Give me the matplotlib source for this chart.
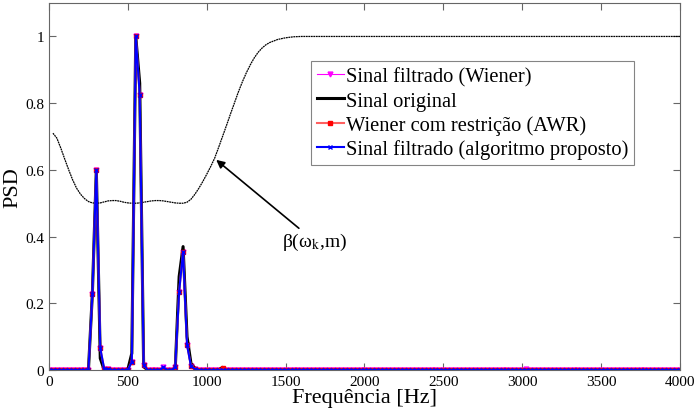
import numpy as np
import matplotlib.pyplot as plt

plt.rcParams['font.family'] = ['Liberation Serif', 'DejaVu Serif']
plt.rcParams['mathtext.fontset'] = 'stix'

# frequency grid of the PSD bins [Hz]
freq = np.arange(0, 4001, 25)

# non-zero PSD values (all other bins are ~0)
orig_peaks = {275: 0.23, 300: 0.60, 325: 0.035, 500: 0.002, 525: 0.05, 550: 1.0,
              575: 0.86, 600: 0.01, 825: 0.28, 850: 0.37, 875: 0.10, 900: 0.02,
              925: 0.005, 1100: 0.008}
wiener_peaks = {275: 0.227, 300: 0.60, 325: 0.065, 350: 0.003, 375: 0.003,
                525: 0.025, 550: 1.0, 575: 0.825, 600: 0.015, 725: 0.008,
                800: 0.008, 825: 0.235, 850: 0.355, 875: 0.075, 900: 0.012,
                925: 0.003, 3025: 0.003}
awr_peaks = {275: 0.227, 300: 0.60, 325: 0.065, 350: 0.003, 375: 0.003,
             525: 0.025, 550: 1.0, 575: 0.825, 600: 0.015, 800: 0.008,
             825: 0.235, 850: 0.355, 875: 0.075, 900: 0.012, 925: 0.003,
             1100: 0.006}
prop_peaks = {275: 0.227, 300: 0.60, 325: 0.065, 350: 0.003, 375: 0.003,
              525: 0.025, 550: 1.0, 575: 0.825, 600: 0.015, 725: 0.008,
              800: 0.008, 825: 0.235, 850: 0.355, 875: 0.075, 900: 0.012,
              925: 0.003}

# weighting curve beta(w_k, m)
beta_f = [25, 50, 75, 100, 125, 150, 175, 200, 225, 250, 275, 300, 325, 350,
          375, 400, 425, 450, 475, 500, 525, 550, 575, 600, 625, 650, 675, 700,
          725, 750, 775, 800, 825, 850, 875, 900, 925, 950, 975, 1000, 1025,
          1050, 1075, 1100, 1125, 1150, 1175, 1200, 1225, 1250, 1275, 1300,
          1325, 1350, 1375, 1400, 1450, 1500, 1550, 1600, 4000]
beta_v = [0.71, 0.695, 0.665, 0.632, 0.60, 0.57, 0.545, 0.527, 0.514, 0.505,
          0.501, 0.50, 0.501, 0.504, 0.507, 0.508, 0.508, 0.506, 0.503, 0.501,
          0.50, 0.50, 0.501, 0.503, 0.505, 0.507, 0.508, 0.508, 0.507, 0.505,
          0.503, 0.501, 0.50, 0.50, 0.503, 0.512, 0.527, 0.545, 0.565, 0.587,
          0.61, 0.635, 0.667, 0.70, 0.733, 0.767, 0.80, 0.833, 0.863, 0.89,
          0.914, 0.935, 0.952, 0.965, 0.975, 0.982, 0.991, 0.996, 0.999, 1.0,
          1.0]


def series(peaks):
    y = np.zeros(len(freq))
    for f, v in peaks.items():
        y[freq == f] = v
    return y


fig = plt.figure(figsize=(6.97, 4.10), dpi=100)
ax = fig.add_axes([0.0703, 0.0951, 0.9053, 0.8949])

ax.plot(beta_f, beta_v, color='black', lw=0.9, ls=(0, (1.5, 0.5)))
ax.plot(freq, series(wiener_peaks), color='magenta', lw=0.8, marker='v', ms=3.5,
        label='Sinal filtrado (Wiener)')
ax.plot(freq, series(orig_peaks), color='black', lw=2.2, label='Sinal original')
ax.plot(freq, series(awr_peaks), color='#ff6060', lw=1.5, marker='s', ms=3,
        mfc='red', mec='red', label='Wiener com restrição (AWR)')
ax.plot(freq, series(prop_peaks), color='blue', lw=1.5, marker='x', ms=2.5,
        mew=1, label='Sinal filtrado (algoritmo proposto)')

ax.annotate(r'β(ω$_{\rm k}$,m)', xy=(1060, 0.63), xytext=(1480, 0.385),
            fontsize=14, va='center', ha='left',
            arrowprops=dict(arrowstyle='-|>', color='black', lw=1.2,
                            shrinkA=0, shrinkB=0, mutation_scale=12))

ax.set_xlim(0, 4000)
ax.set_ylim(0, 1.1)
ax.set_xticks(np.arange(0, 4001, 500))
ax.set_yticks([0, 0.2, 0.4, 0.6, 0.8, 1.0])
ax.set_yticklabels(['0', '0.2', '0.4', '0.6', '0.8', '1'])
ax.tick_params(direction='in', top=True, right=True, labelsize=11, length=5,
               color='0.4')
for s in ax.spines.values():
    s.set_color('0.4')
ax.set_xlabel('Frequência [Hz]', fontsize=16, labelpad=0)
ax.set_ylabel('PSD', fontsize=16, labelpad=2)

leg = ax.legend(loc='upper left', bbox_to_anchor=(0.415, 0.842), fontsize=14.8,
                frameon=True, fancybox=False, handlelength=1.3,
                handletextpad=0.1, borderpad=0.3, borderaxespad=0,
                labelspacing=0.22)
leg.get_frame().set_edgecolor('0.4')
leg.get_frame().set_linewidth(0.8)

fig.savefig('out.png', dpi=100)
